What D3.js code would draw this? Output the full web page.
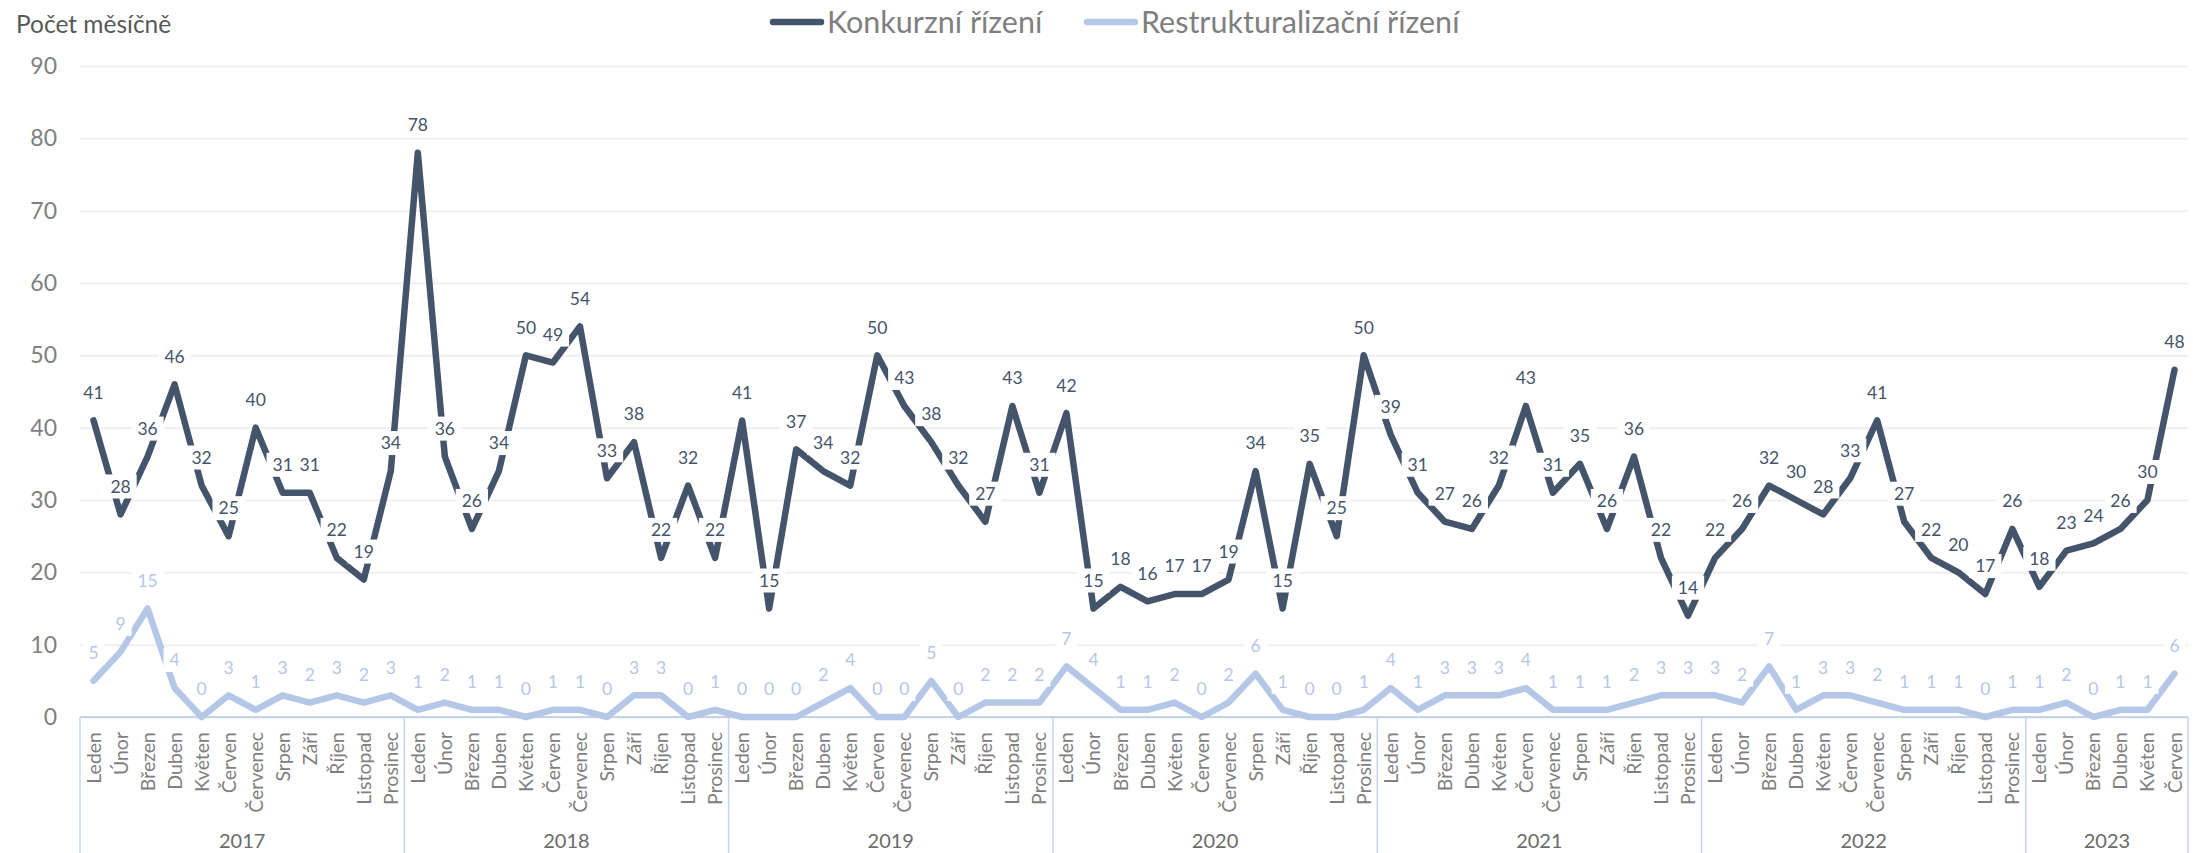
<!DOCTYPE html>
<html>
<head>
<meta charset="utf-8">
<script src="https://cdn.jsdelivr.net/npm/d3@7"></script>
<style>
  body { margin: 0; background: #fff; }
  text { font-family: Lato, "Open Sans", sans-serif; }
</style>
</head>
<body>
<script>
// Chart data
var years = ["2017", "2018", "2019", "2020", "2021", "2022", "2023"];
var monthNames = ["Leden", "Únor", "Březen", "Duben", "Květen", "Červen",
                  "Červenec", "Srpen", "Září", "Říjen", "Listopad", "Prosinec"];
var monthsInYear = [12, 12, 12, 12, 12, 12, 6];

var konkurz = [41, 28, 36, 46, 32, 25, 40, 31, 31, 22, 19, 34,
               78, 36, 26, 34, 50, 49, 54, 33, 38, 22, 32, 22,
               41, 15, 37, 34, 32, 50, 43, 38, 32, 27, 43, 31,
               42, 15, 18, 16, 17, 17, 19, 34, 15, 35, 25, 50,
               39, 31, 27, 26, 32, 43, 31, 35, 26, 36, 22, 14,
               22, 26, 32, 30, 28, 33, 41, 27, 22, 20, 17, 26,
               18, 23, 24, 26, 30, 48];
var restruk = [5, 9, 15, 4, 0, 3, 1, 3, 2, 3, 2, 3,
               1, 2, 1, 1, 0, 1, 1, 0, 3, 3, 0, 1,
               0, 0, 0, 2, 4, 0, 0, 5, 0, 2, 2, 2,
               7, 4, 1, 1, 2, 0, 2, 6, 1, 0, 0, 1,
               4, 1, 3, 3, 3, 4, 1, 1, 1, 2, 3, 3,
               3, 2, 7, 1, 3, 3, 2, 1, 1, 1, 0, 1,
               1, 2, 0, 1, 1, 6];
var yTicks = [0, 10, 20, 30, 40, 50, 60, 70, 80, 90];
var seriesNames = ["Konkurzní řízení", "Restrukturalizační řízení"];
var seriesColors = ["#44546a", "#b4c7e7"];

var W = 2193, H = 853;
var plotLeft = 80, plotRight = 2188, plotTop = 66, plotBottom = 717;

// Build month categories (year + month)
var cats = [];
years.forEach(function(yr, i) {
    for (var m = 0; m < monthsInYear[i]; m++) {
        cats.push({key: yr + "-" + m, year: yr, month: monthNames[m]});
    }
});

var svg = d3.select("body").append("svg")
    .attr("width", W)
    .attr("height", H);

var x = d3.scaleBand()
    .domain(cats.map(function(d) { return d.key; }))
    .range([plotLeft, plotRight])
    .padding(0);
var bw = x.bandwidth();
function cx(i) { return x(cats[i].key) + bw / 2; }

var y = d3.scaleLinear()
    .domain([0, 90])
    .range([plotBottom, plotTop]);

// Gridlines
var grid = svg.append("g")
    .attr("transform", "translate(" + plotLeft + ",0)")
    .call(d3.axisLeft(y).tickValues(yTicks).tickSize(-(plotRight - plotLeft)).tickFormat(""));
grid.select(".domain").remove();
grid.selectAll("line").attr("stroke", "#efefef").attr("stroke-width", 2);

// Y axis labels
var yAxis = svg.append("g")
    .attr("transform", "translate(" + (plotLeft - 23) + ",0)")
    .call(d3.axisLeft(y).tickValues(yTicks).tickSize(0).tickPadding(0));
yAxis.select(".domain").remove();
yAxis.selectAll("text")
    .attr("fill", "#7f7f7f")
    .style("font-size", "23px")
    .style("font-family", "Lato, sans-serif");

// X axis line
svg.append("line")
    .attr("x1", plotLeft).attr("x2", plotRight)
    .attr("y1", plotBottom).attr("y2", plotBottom)
    .attr("stroke", "#b4c7e7")
    .attr("stroke-width", 1.5);

// Year separators
var idx = 0;
var sepX = [plotLeft];
years.forEach(function(yr, i) {
    idx += monthsInYear[i];
    sepX.push(idx < cats.length ? x(cats[idx].key) : plotRight);
});
svg.selectAll(".sep")
    .data(sepX)
    .enter()
    .append("line")
    .attr("x1", function(d) { return d; })
    .attr("x2", function(d) { return d; })
    .attr("y1", plotBottom)
    .attr("y2", H)
    .attr("stroke", "#c5d4ee")
    .attr("stroke-width", 1.5);

// Month labels
svg.selectAll(".month")
    .data(cats)
    .enter()
    .append("text")
    .attr("transform", function(d, i) { return "translate(" + cx(i) + "," + (plotBottom + 15) + ") rotate(-90)"; })
    .attr("text-anchor", "end")
    .attr("dy", "0.36em")
    .attr("fill", "#7f7f7f")
    .style("font-size", "19.5px")
    .text(function(d) { return d.month; });

// Year labels
years.forEach(function(yr, i) {
    svg.append("text")
        .attr("x", (sepX[i] + sepX[i + 1]) / 2)
        .attr("y", 841)
        .attr("dy", "0.36em")
        .attr("text-anchor", "middle")
        .attr("fill", "#6b6b6b")
        .style("font-size", "20px")
        .text(yr);
});

// Lines
var line = d3.line()
    .x(function(d, i) { return cx(i); })
    .y(function(d) { return y(d); });

[konkurz, restruk].forEach(function(vals, s) {
    svg.append("path")
        .datum(vals)
        .attr("d", line)
        .attr("fill", "none")
        .attr("stroke", seriesColors[s])
        .attr("stroke-width", 6.5)
        .attr("stroke-linejoin", "round")
        .attr("stroke-linecap", "round");
});

// Data labels with white background
[konkurz, restruk].forEach(function(vals, s) {
    var g = svg.append("g");
    vals.forEach(function(v, i) {
        var lg = g.append("g")
            .attr("transform", "translate(" + cx(i) + "," + (y(v) - 28) + ")");
        var rect = lg.append("rect").attr("fill", "#fff");
        var t = lg.append("text")
            .attr("text-anchor", "middle")
            .attr("dy", "0.36em")
            .attr("fill", seriesColors[s])
            .style("font-size", "17.5px")
            .text(v);
        var w = t.node().getComputedTextLength();
        rect.attr("x", -w / 2 - 6).attr("y", -12).attr("width", w + 12).attr("height", 24);
    });
});

// Title
svg.append("text")
    .attr("x", 16)
    .attr("y", 24)
    .attr("dy", "0.36em")
    .attr("fill", "#595959")
    .style("font-size", "24.5px")
    .text("Počet měsíčně");

// Legend
var legendX = [770, 1084];
seriesNames.forEach(function(name, s) {
    svg.append("line")
        .attr("x1", legendX[s] + 3).attr("x2", legendX[s] + 51)
        .attr("y1", 22).attr("y2", 22)
        .attr("stroke", seriesColors[s])
        .attr("stroke-width", 6.5)
        .attr("stroke-linecap", "round");
    svg.append("text")
        .attr("x", legendX[s] + 57)
        .attr("y", 22)
        .attr("dy", "0.36em")
        .attr("fill", "#7f7f7f")
        .style("font-size", "30.5px")
        .text(name);
});
</script>
</body>
</html>
